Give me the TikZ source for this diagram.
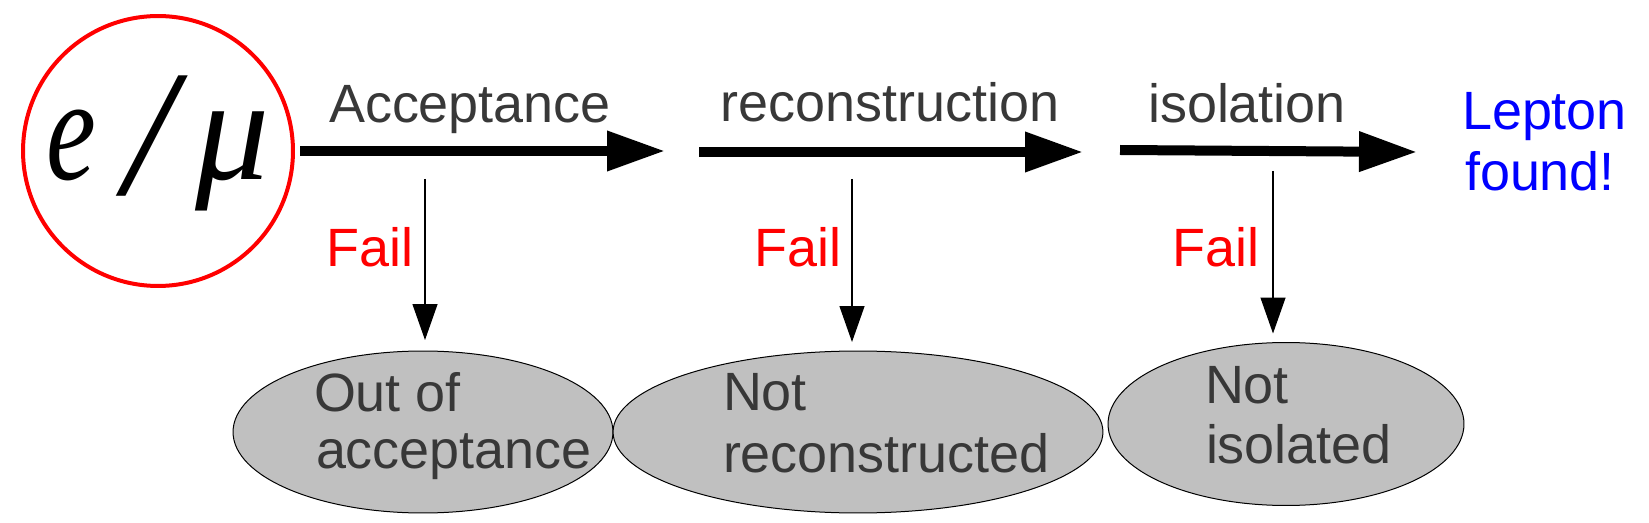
\documentclass[tikz,border=0pt]{standalone}
\usepackage{fontspec}
\setmainfont{Liberation Sans}
\newfontfamily\emufont{Liberation Serif}
\usetikzlibrary{arrows.meta,shapes.geometric}
\definecolor{txtgray}{HTML}{383838}
\definecolor{ellgray}{HTML}{C0C0C0}
\definecolor{leptonblue}{HTML}{0000FF}
\definecolor{failred}{HTML}{FF0000}
\begin{document}
\begin{tikzpicture}[x=0.02cm,y=-0.02cm,
  lbl/.style={font=\fontsize{30.7}{36}\selectfont, text=txtgray, inner sep=0, outer sep=0, anchor=base},
  lline/.style={lbl, anchor=base west},
  faillbl/.style={lbl, text=failred},
  leptonlbl/.style={lbl, anchor=base west, text=leptonblue},
  thickarrow/.style={line width=0.2cm, -{Triangle[length=1.16cm,width=0.76cm]}},
  thinarrow/.style={line width=0.025cm, -{Triangle[length=0.72cm,width=0.5cm]}},
  outcome/.style={ellipse, draw=black, line width=0.02cm, fill=ellgray, inner sep=0, outer sep=0},
  startcircle/.style={circle, draw=failred, line width=0.08cm, minimum size=5.4cm, inner sep=0, outer sep=0}]
\useasboundingbox (0,0) rectangle (1649,523);

% start circle
\node[startcircle] (emu) at (158,151) {};
\node[inner sep=0, anchor=base west, font=\emufont\itshape\fontsize{84}{84}\selectfont] (emutext) at (46,180)
  {\scalebox{0.76}[1]{e}\hspace{0.56cm}\raisebox{-0.3cm}{\scalebox{1.22}{/}}\hspace{0.42cm}μ};

% main arrows
\coordinate (a1s) at (300,151);
\coordinate (a1e) at (665,151);
\coordinate (a2s) at (699,152);
\coordinate (a2e) at (1083,152);
\coordinate (a3s) at (1120,150);
\coordinate (a3e) at (1417,152);
\draw[thickarrow] (a1s) -- (a1e);
\draw[thickarrow] (a2s) -- (a2e);
\draw[thickarrow] (a3s) -- (a3e);

\node[lbl] (lacc) at (470,123) {Acceptance};
\node[lbl] (lrec) at (890,122) {reconstruction};
\node[lbl] (liso) at (1247,123) {isolation};

\node[leptonlbl] (lep1) at (1462,130) {Lepton};
\node[leptonlbl] (lep2) at (1465,191) {found!};

% outcome ellipses
\node[outcome, minimum width=7.6cm, minimum height=3.24cm] (e1) at (423,432) {};
\node[outcome, minimum width=9.8cm, minimum height=3.24cm] (e2) at (858,432) {};
\node[outcome, minimum width=7.12cm, minimum height=3.26cm] (e3) at (1286,424) {};

\node[lline] (t1a) at (314,411) {Out of};
\node[lline] (t1b) at (316,468) {acceptance};
\node[lline] (t2a) at (723,410) {Not};
\node[lline] (t2b) at (723,472) {reconstructed};
\node[lline] (t3a) at (1205,403) {Not};
\node[lline] (t3b) at (1206,463) {isolated};

% fail arrows
\coordinate (f1s) at (425,179);
\coordinate (f2s) at (852,179);
\coordinate (f3s) at (1273,171);
\draw[thinarrow, shorten >=0.22cm] (f1s) -- (f1s |- e1.north);
\draw[thinarrow, shorten >=0.18cm] (f2s) -- (f2s |- e2.north);
\draw[thinarrow, shorten >=0.18cm] (f3s) -- (f3s |- e3.north);

\node[faillbl] (fail1) at (370,267) {Fail};
\node[faillbl] (fail2) at (798,267) {Fail};
\node[faillbl] (fail3) at (1216,267) {Fail};
\end{tikzpicture}
\end{document}
